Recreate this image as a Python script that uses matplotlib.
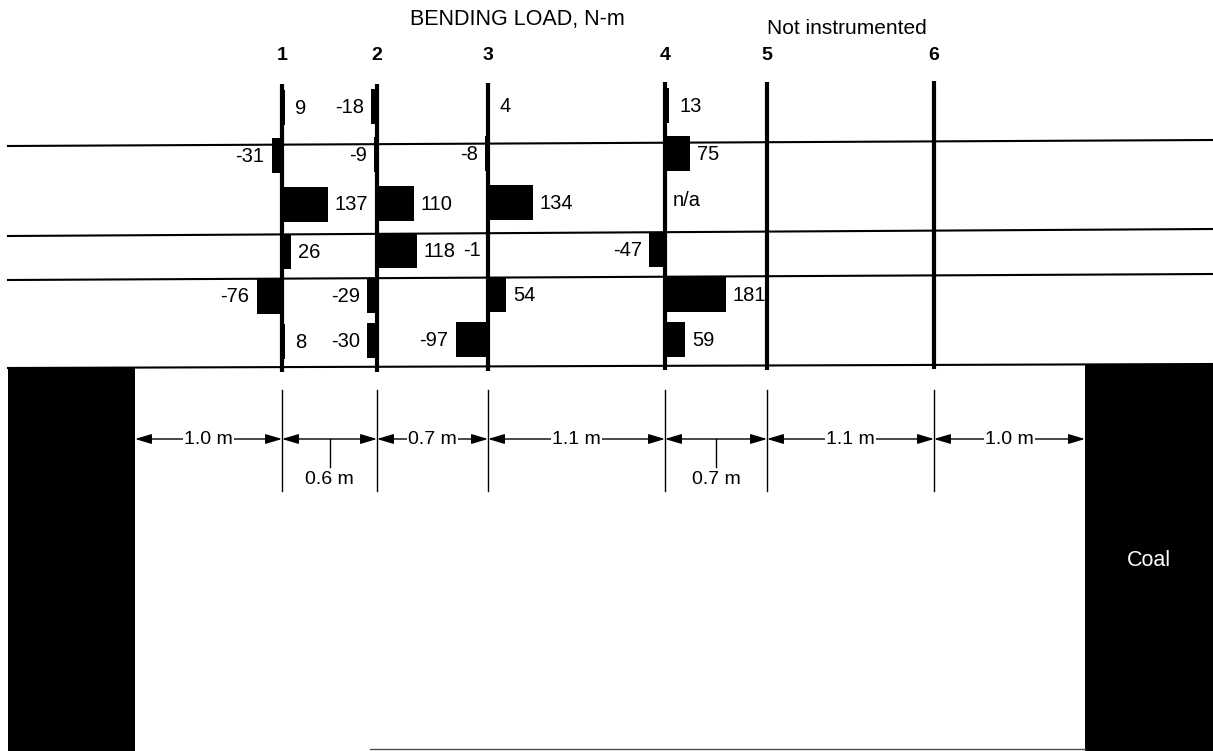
import matplotlib.pyplot as plt
from matplotlib.patches import FancyArrowPatch, Rectangle

plt.rcParams['font.family'] = ['Liberation Sans', 'DejaVu Sans']

# bending load (N-m) per bolt, gauge levels from top of bolt to roof line
bolt_names = ['1', '2', '3', '4', '5', '6']
loads_bolt1 = [9, -31, 137, 26, -76, 8]
loads_bolt2 = [-18, -9, 110, 118, -29, -30]
loads_bolt3 = [4, -8, 134, -1, 54, -97]
loads_bolt4 = [13, 75, None, -47, 181, 59]
span_labels = ['1.0 m', '0.6 m', '0.7 m', '1.1 m', '0.7 m', '1.1 m', '1.0 m']
span_label_below = [False, True, False, False, True, False, False]

# layout (pixel space of the page)
W, H = 1213, 751
bolt_x = [282, 377, 488, 665, 767, 934]
rib_left, rib_right = 135, 1085
level_y = [107, 155, 204, 251, 296, 341]
bar_h = 35
px_per_nm = 0.335
tilt = -0.005
val_fs = 14.5


def shift(x):
    return (x - bolt_x[0]) * tilt


fig = plt.figure(figsize=(W / 100, H / 100), dpi=100)
ax = fig.add_axes([0, 0, 1, 1])
ax.set_xlim(0, W)
ax.set_ylim(H, 0)
ax.axis('off')

# bedding planes and roof line
for y_left, y_right in [(146, 140), (236, 229), (280, 274), (368, 364)]:
    ax.plot([8, W], [y_left, y_right], color='black', lw=1.5)

# coal ribs
ax.add_patch(Rectangle((8, 368), rib_left - 8, H - 368, color='black', lw=0))
ax.add_patch(Rectangle((rib_right, 364), W - rib_right, H - 364, color='black', lw=0))
ax.text((rib_right + W) / 2, 560, 'Coal', color='white', fontsize=15.5,
        ha='center', va='center')
ax.plot([370, rib_right], [749, 749], color='0.3', lw=1)

# bolts
for name, x in zip(bolt_names, bolt_x):
    ax.plot([x, x], [84 + shift(x), 372 + shift(x)], color='black', lw=3,
            solid_capstyle='butt')
    ax.text(x, 55, name, fontsize=14, fontweight='bold', ha='center', va='center')

# bending load bars
all_loads = [loads_bolt1, loads_bolt2, loads_bolt3, loads_bolt4]
for x, loads in zip(bolt_x, all_loads):
    for y, v in zip(level_y, loads):
        yy = y + shift(x)
        if v is None:
            ax.text(x + 8, yy - 2, 'n/a', fontsize=val_fs, ha='left', va='center')
            continue
        ax.barh(yy, v * px_per_nm, left=x, height=bar_h, color='black', lw=0)
        w = v * px_per_nm
        if v >= 0:
            pad = 7 if w > 5 else 10
            ax.text(x + max(w, 2) + pad, yy + 1, str(v), fontsize=val_fs,
                    ha='left', va='center')
        else:
            ax.text(x + w - 7, yy + 1, str(v), fontsize=val_fs,
                    ha='right', va='center')

ax.text(517, 20, 'BENDING LOAD, N-m', fontsize=15.5, ha='center', va='center')
ax.text(847, 28, 'Not instrumented', fontsize=15, ha='center', va='center')

# dimension lines
dim_y = 439
for x in bolt_x:
    ax.plot([x, x], [390, 491], color='black', lw=1)
stops = [rib_left] + bolt_x + [rib_right]
for (x0, x1), lab, below in zip(zip(stops[:-1], stops[1:]), span_labels, span_label_below):
    ax.add_patch(FancyArrowPatch((x0, dim_y), (x1, dim_y),
                                 arrowstyle='<|-|>,head_length=1.0,head_width=0.3',
                                 mutation_scale=10, color='black', lw=1,
                                 shrinkA=0, shrinkB=0))
    xm = (x0 + x1) / 2
    if below:
        ax.plot([xm, xm], [dim_y, 467], color='black', lw=1)
        ax.text(xm, 480, lab, fontsize=14, ha='center', va='center')
    else:
        ax.text(xm, dim_y, lab, fontsize=14, ha='center', va='center',
                bbox=dict(facecolor='white', edgecolor='none', pad=1))

fig.savefig('out.png', dpi=100)
